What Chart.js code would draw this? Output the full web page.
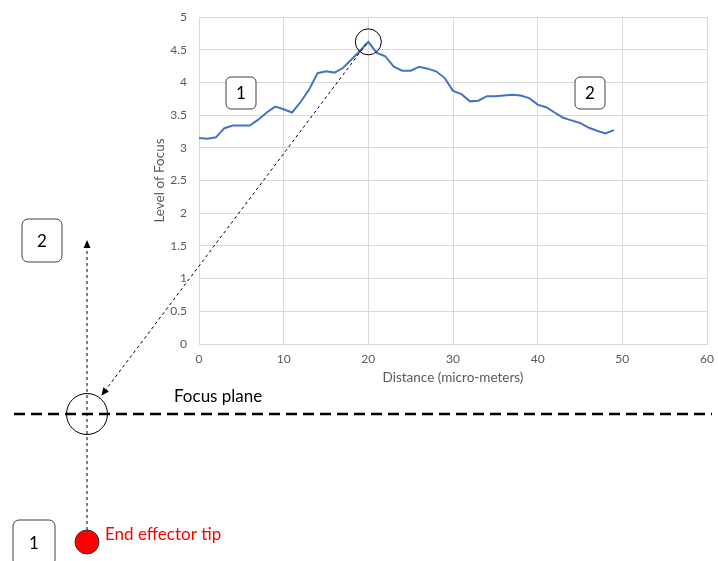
<!DOCTYPE html>
<html>
<head>
<meta charset="utf-8">
<script src="https://cdn.jsdelivr.net/npm/chart.js@4.4.1/dist/chart.umd.min.js"></script>
<style>
  html, body { margin: 0; padding: 0; background: #fff; }
  #wrap { width: 718px; height: 561px; position: relative; }
</style>
</head>
<body>
<div id="wrap"><canvas id="grafico" width="718" height="561"></canvas></div>
<script>
// dados
const distance = [0, 1, 2, 3, 4, 5, 6, 7, 8, 9, 10, 11, 12, 13, 14, 15, 16, 17, 18, 19,
    20, 21, 22, 23, 24, 25, 26, 27, 28, 29, 30, 31, 32, 33, 34, 35, 36, 37, 38, 39,
    40, 41, 42, 43, 44, 45, 46, 47, 48, 49];
const focusLevel = [3.15, 3.14, 3.16, 3.30, 3.34, 3.34, 3.34, 3.43, 3.54, 3.63, 3.59, 3.54, 3.70, 3.89, 4.14, 4.17, 4.15, 4.22, 4.35, 4.48,
    4.62, 4.45, 4.40, 4.24, 4.18, 4.18, 4.24, 4.21, 4.17, 4.07, 3.87, 3.82, 3.71, 3.72, 3.79, 3.79, 3.80, 3.81, 3.80, 3.76,
    3.66, 3.62, 3.54, 3.46, 3.42, 3.38, 3.31, 3.26, 3.22, 3.27];
const xRange = [0, 60];
const xStep = 10;
const yRange = [0, 5];
const yStep = 0.5;
const peakDistance = 20;

const FONT = 'Lato, "Open Sans", sans-serif';

function roundBox(ctx, x, y, w, h, r, label) {
    ctx.save();
    ctx.beginPath();
    ctx.roundRect(x, y, w, h, r);
    ctx.fillStyle = '#fff';
    ctx.fill();
    ctx.lineWidth = 1;
    ctx.strokeStyle = '#404040';
    ctx.stroke();
    ctx.fillStyle = '#000';
    ctx.font = '17px ' + FONT;
    ctx.textAlign = 'center';
    ctx.textBaseline = 'middle';
    ctx.fillText(label, x + w / 2, y + h / 2 + 1);
    ctx.restore();
}

function arrowHead(ctx, x, y, ang) {
    ctx.save();
    ctx.translate(x, y);
    ctx.rotate(ang);
    ctx.beginPath();
    ctx.moveTo(0, 0);
    ctx.lineTo(-8, -3.5);
    ctx.lineTo(-8, 3.5);
    ctx.closePath();
    ctx.fillStyle = '#000';
    ctx.fill();
    ctx.restore();
}

// desenho do diagrama em volta do gráfico
const diagrama = {
    id: 'diagrama',
    beforeDraw(chart) {
        const ctx = chart.ctx;
        ctx.save();
        ctx.fillStyle = '#fff';
        ctx.fillRect(0, 0, chart.width, chart.height);
        ctx.restore();
    },
    afterDraw(chart) {
        const ctx = chart.ctx;
        const xs = chart.scales.x, ys = chart.scales.y;
        const idx = distance.indexOf(peakDistance);
        const px = xs.getPixelForValue(peakDistance);
        const py = ys.getPixelForValue(focusLevel[idx]);

        const fx = 87, fy = 414;   // ponto no plano de foco

        ctx.save();
        // linha do plano de foco
        ctx.beginPath();
        ctx.setLineDash([11, 6]);
        ctx.lineWidth = 2.5;
        ctx.strokeStyle = '#000';
        ctx.moveTo(14, fy);
        ctx.lineTo(712, fy);
        ctx.stroke();

        // linha vertical pontilhada
        ctx.beginPath();
        ctx.setLineDash([3, 3]);
        ctx.lineWidth = 1;
        ctx.moveTo(fx, 530);
        ctx.lineTo(fx, 248);
        ctx.stroke();
        arrowHead(ctx, fx, 240, -Math.PI / 2);

        // círculo no plano de foco
        ctx.setLineDash([]);
        ctx.beginPath();
        ctx.arc(fx, fy, 20.5, 0, Math.PI * 2);
        ctx.stroke();

        // círculo no pico
        ctx.beginPath();
        ctx.arc(px, py, 13, 0, Math.PI * 2);
        ctx.stroke();

        // seta do pico até o círculo
        const ang = Math.atan2(fy - py, fx - px);
        const ex = fx - Math.cos(ang) * 20.5 + 2;
        const ey = fy - Math.sin(ang) * 20.5 - 2;
        ctx.beginPath();
        ctx.setLineDash([3, 3]);
        ctx.moveTo(px - 2, py + 2);
        ctx.lineTo(ex - Math.cos(ang) * 7, ey - Math.sin(ang) * 7);
        ctx.stroke();
        ctx.setLineDash([]);
        arrowHead(ctx, ex, ey, ang);

        // ponta do efetuador
        ctx.beginPath();
        ctx.arc(fx, 542, 12, 0, Math.PI * 2);
        ctx.fillStyle = '#ff0000';
        ctx.fill();
        ctx.lineWidth = 1;
        ctx.strokeStyle = '#333';
        ctx.stroke();

        ctx.font = '17px ' + FONT;
        ctx.textBaseline = 'middle';
        ctx.textAlign = 'left';
        ctx.fillStyle = '#ff0000';
        ctx.fillText('End effector tip', 105, 535);
        ctx.fillStyle = '#000';
        ctx.fillText('Focus plane', 174, 397);
        ctx.restore();

        roundBox(ctx, 226, 77, 30, 32, 5, '1');
        roundBox(ctx, 575, 77, 30, 32, 5, '2');
        roundBox(ctx, 22, 219, 40, 43, 6, '2');
        roundBox(ctx, 13, 520, 42, 46, 6, '1');
    }
};

const ctx = document.getElementById('grafico').getContext('2d');
new Chart(ctx, {
    type: 'line',
    data: {
        datasets: [{
            data: distance.map((d, i) => ({ x: d, y: focusLevel[i] })),
            borderColor: '#4472C4',
            borderWidth: 2,
            pointRadius: 0,
            tension: 0,
            fill: false
        }]
    },
    options: {
        responsive: false,
        animation: false,
        layout: { padding: { left: 148, top: 17, right: 11, bottom: 171 } },
        plugins: { legend: { display: false }, tooltip: { enabled: false } },
        scales: {
            x: {
                type: 'linear',
                min: xRange[0], max: xRange[1],
                ticks: { stepSize: xStep, padding: 8, color: '#595959', font: { family: FONT, size: 12 } },
                grid: { color: '#d9d9d9', drawTicks: false },
                border: { color: '#d9d9d9' },
                title: { display: true, text: 'Distance (micro-meters)', color: '#595959', font: { family: FONT, size: 13.5 } },
                afterFit(s) { s.height = 46; s.paddingRight = 0; s.paddingLeft = 0; }
            },
            y: {
                min: yRange[0], max: yRange[1],
                ticks: { stepSize: yStep, padding: 12, color: '#595959', font: { family: FONT, size: 12 },
                    callback: (v) => String(v) },
                grid: { color: '#d9d9d9', drawTicks: false },
                border: { color: '#d9d9d9' },
                title: { display: true, text: 'Level of Focus', color: '#595959', font: { family: FONT, size: 13.5 } },
                afterFit(s) { s.width = 51; s.paddingTop = 0; s.paddingBottom = 0; }
            }
        }
    },
    plugins: [diagrama]
});
</script>
</body>
</html>
